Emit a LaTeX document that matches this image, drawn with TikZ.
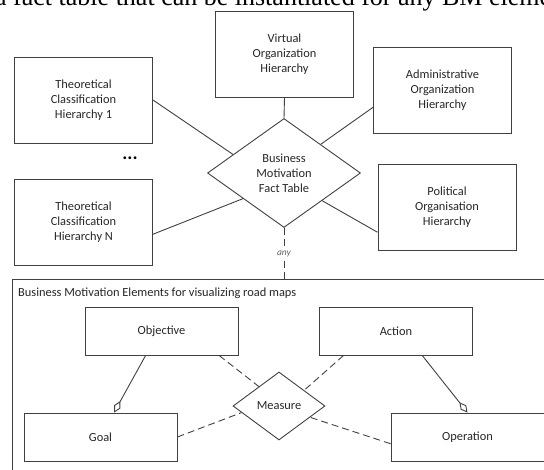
\documentclass[tikz,border=0pt]{standalone}
\usepackage{fontspec}
\setmainfont{Carlito}
\newfontfamily\bodyserif{Liberation Serif}
\usetikzlibrary{shapes.geometric,arrows.meta}

\begin{document}
\begin{tikzpicture}[x=1pt,y=-1pt]
\tikzstyle{every node}+=[inner sep=0pt, text=black!85, font=\fontsize{12.4}{15.2}\selectfont]
\tikzstyle{ent}=[draw=black!75, line width=0.9pt, minimum width=138pt, minimum height=86pt, align=center]
\tikzstyle{elem}=[draw=black!75, line width=0.9pt, minimum width=153pt, minimum height=48pt]
\tikzstyle{rel}=[diamond, draw=black!75, line width=0.9pt, align=center]
\tikzstyle{link}=[draw=black!75, line width=0.9pt]
\tikzstyle{dep}=[draw=black!75, line width=0.9pt, dash pattern=on 7pt off 4pt]
\tikzstyle{agg}=[-{Diamond[open, length=13pt, width=7pt, line width=0.9pt]}]
\useasboundingbox (0,0) rectangle (544,470);
\clip (0,0) rectangle (544,470);
\node[anchor=base west, font=\bodyserif\fontsize{26}{30}\selectfont, text=black] (caption) at (-5,6) {a fact table that can be instantiated for any BM element};
\node[ent] (virt) at (284.5,54) {Virtual\\Organization\\Hierarchy};
\node[ent] (tch1) at (83.5,100) {Theoretical\\Classification\\Hierarchy 1};
\node[ent] (tchN) at (83.5,222) {Theoretical\\Classification\\Hierarchy N};
\node[ent] (admin) at (442.5,90) {Administrative\\Organization\\Hierarchy};
\node[ent] (pol) at (447,207) {Political\\Organisation\\Hierarchy};
\node[rel, minimum width=153pt, minimum height=109pt] (fact) at (284,173) {Business\\Motivation\\Fact Table};
\node[font=\bfseries\fontsize{19}{19}\selectfont, text=black] (dots) at (130,158) {...};
\node[draw=black!75, line width=0.9pt, anchor=north west, minimum width=560pt, minimum height=220pt] (bme) at (12,279) {};
\node[anchor=west] (bmetitle) at (18,293) {Business Motivation Elements for visualizing road maps};
\node[elem] (obj) at (161.5,331) {Objective};
\node[elem] (act) at (396,331) {Action};
\node[elem] (goal) at (100.5,437) {Goal};
\node[elem] (oper) at (467.5,437) {Operation};
\node[rel, minimum width=92pt, minimum height=68pt] (meas) at (279,406) {Measure};
\draw[link] (virt.south) -- (fact.north);
\draw[link] (tch1.east) -- (fact.160);
\draw[link] (tchN.-10) -- (fact.212);
\draw[link] (admin.194) -- (fact.38);
\draw[link] (pol.200) -- (fact.324);
\draw[dep] (fact.south) -- node[fill=white, font=\itshape\fontsize{9.5}{9.5}\selectfont, text=black!60, inner sep=2pt] (anylbl) {any} (fact.south |- bme.north);
\draw[link, agg] (obj.237) -- (goal.61);
\draw[link, agg] (act.317) -- (oper.north);
\draw[dep] (obj.337) -- (meas.136);
\draw[dep] (act.205) -- (meas.32);
\draw[dep] (goal.east) -- (meas.190);
\draw[dep] (oper.185) -- (meas.340);
\end{tikzpicture}
\end{document}
